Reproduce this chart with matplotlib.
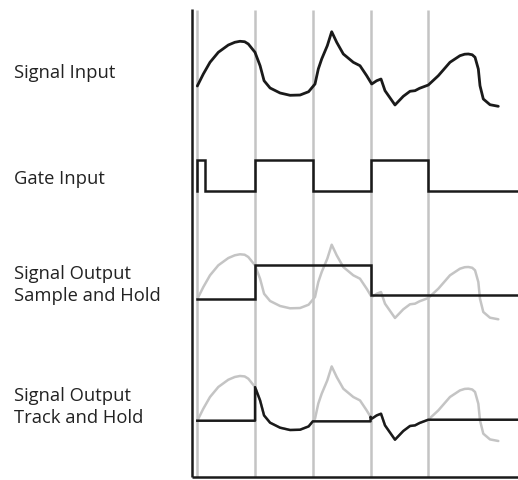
import numpy as np
import matplotlib.pyplot as plt

# signal (time in gate periods, value in relative units)
sig_t = [0.000, 0.104, 0.220, 0.364, 0.537, 0.650, 0.739, 0.820, 0.883, 0.999, 1.087, 1.156,
         1.260, 1.433, 1.606, 1.779, 1.927, 2.038, 2.095, 2.154, 2.251, 2.327,
         2.414, 2.528, 2.701, 2.817, 2.933, 3.020, 3.106, 3.181, 3.250, 3.423,
         3.567, 3.683, 3.770, 3.848, 4.000, 4.173, 4.375, 4.548, 4.630, 4.693, 4.760, 4.809,
         4.866, 4.895, 4.952, 5.068, 5.212]
sig_v = [0.000, 0.218, 0.431, 0.613, 0.745, 0.795, 0.813, 0.805, 0.764, 0.613, 0.369, 0.096,
         -0.036, -0.127, -0.169, -0.164, -0.104, 0.036, 0.309, 0.491, 0.733, 0.987,
         0.794, 0.582, 0.431, 0.369, 0.187, 0.036, 0.096, 0.127, -0.085, -0.345,
         -0.187, -0.096, -0.085, -0.042, 0.018, 0.187, 0.431, 0.551, 0.578, 0.582, 0.568, 0.522,
         0.309, 0.005, -0.236, -0.340, -0.369]

# gate edges and state after each edge
gate_t = [0.0, 0.133, 1.0, 2.0, 3.0, 4.0]
gate_state = [1, 0, 1, 0, 1, 0]

# sample & hold instants, track & hold windows
sample_times = [0.0, 1.0, 3.0]
track_windows = [(1.0, 2.0), (3.0, 4.0)]

row_labels = ["Signal Input", "Gate Input",
              "Signal Output\nSample and Hold", "Signal Output\nTrack and Hold"]

W, H = 518, 481
t_end = 5.553
px_per_t = 57.75
x0 = 197.3
scale = 55.0
base_sig, base_gate, base_sh, base_th = 87.0, 192.3, 300.0, 421.7
gate_amp = 31.6

black = "#1a1a1a"
gray = "#c4c4c4"
lw = 1.8

sig_t = np.array(sig_t)
sig_v = np.array(sig_v)

def sig_at(t):
    return float(np.interp(t, sig_t, sig_v))

fig = plt.figure(figsize=(W / 100, H / 100), dpi=100)
ax = fig.add_axes([0, 0, 1, 1])
ax.set_xlim(-x0 / px_per_t, t_end)
ax.set_ylim(H, 0)
ax.axis("off")

# gray time markers
t_axis = (192 - x0) / px_per_t
for t in range(5):
    ax.plot([t, t], [11, 478], color=gray, lw=lw, solid_capstyle="butt", zorder=1)

# frame lines
ax.plot([t_axis, t_axis], [10, 478], color=black, lw=lw, solid_capstyle="butt", zorder=5)
ax.plot([t_axis, t_end], [478, 478], color=black, lw=lw, solid_capstyle="butt", zorder=5)

# row 1: signal
ax.plot(sig_t, base_sig - scale * sig_v, color=black, lw=lw + 0.2, zorder=3,
        solid_joinstyle="round", solid_capstyle="round")

# row 2: gate
gx, gy = [gate_t[0]], [0]
for i, t in enumerate(gate_t):
    gx += [t, t]
    gy += [gy[-1], gate_state[i]]
gx.append(t_end)
gy.append(gy[-1])
ax.plot(gx, base_gate - gate_amp * np.array(gy), color=black, lw=lw, zorder=3,
        solid_joinstyle="miter")

# row 3: sample and hold
ax.plot(sig_t, base_sh - scale * sig_v, color=gray, lw=lw, zorder=2,
        solid_joinstyle="round", solid_capstyle="round")
hx, hy = [], []
for i, ts in enumerate(sample_times):
    te = sample_times[i + 1] if i + 1 < len(sample_times) else t_end
    hx += [ts, te]
    hy += [sig_at(ts)] * 2
ax.plot(hx, base_sh - scale * np.array(hy), color=black, lw=lw, zorder=3,
        solid_joinstyle="miter")

# row 4: track and hold
ax.plot(sig_t, base_th - scale * sig_v, color=gray, lw=lw, zorder=2,
        solid_joinstyle="round", solid_capstyle="round")
tx, ty = [0.0], [sig_at(0.0)]
for (a, b) in track_windows:
    tx.append(a)
    ty.append(ty[-1])
    inside = (sig_t > a) & (sig_t < b)
    tx += [a] + list(sig_t[inside]) + [b]
    ty += [sig_at(a)] + list(sig_v[inside]) + [sig_at(b)]
tx.append(t_end)
ty.append(ty[-1])
ax.plot(tx, base_th - scale * np.array(ty), color=black, lw=lw, zorder=3,
        solid_joinstyle="round")

# labels
baselines = [77.5, 184.3, 279.0, 401.0]
for lab, yb in zip(row_labels, baselines):
    for k, line in enumerate(lab.split("\n")):
        fig.text(14 / W, 1 - (yb + 22.5 * k) / H, line, fontsize=13.2,
                 family="Open Sans", color="#222222", va="baseline", ha="left")

fig.savefig("out.png", dpi=100)
